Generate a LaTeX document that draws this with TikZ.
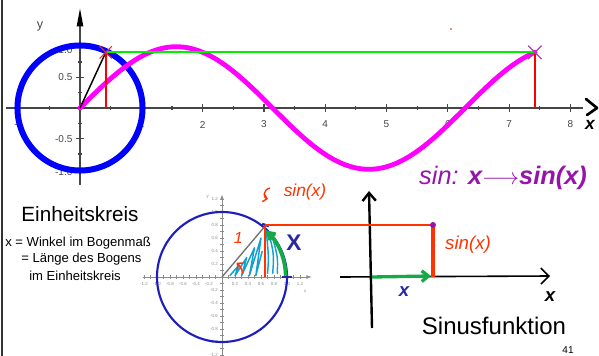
\documentclass[tikz,border=0pt]{standalone}
\usepackage{fontspec}
\setmainfont{Liberation Sans}
\usetikzlibrary{arrows.meta,calc}
\definecolor{axgray}{RGB}{70,70,70}
\definecolor{mag}{RGB}{255,0,255}
\definecolor{brightgreen}{RGB}{0,240,0}
\definecolor{pxviolet}{RGB}{170,70,170}
\definecolor{navy}{RGB}{40,40,160}
\definecolor{circblue}{RGB}{30,30,190}
\definecolor{hred}{RGB}{255,50,0}
\definecolor{hgreen}{RGB}{20,170,70}
\definecolor{hcyan}{RGB}{20,160,210}
\definecolor{hpurple}{RGB}{150,20,170}
\definecolor{lgray}{RGB}{140,140,140}
\tikzset{
 axisline/.style={axgray, line width=0.9pt},
 tlabel/.style={text=axgray, font=\fontsize{7.5}{7.5}\selectfont, inner sep=0pt},
 smalllabel/.style={text=lgray, font=\fontsize{3.3}{3.3}\selectfont, inner sep=0pt},
 hand/.style={font=\fontsize{13}{13}\selectfont\itshape, inner sep=0pt},
 plain/.style={font=\fontsize{9.8}{9.8}\selectfont, inner sep=0pt, anchor=west},
}
\begin{document}
\begin{tikzpicture}[x=0.75pt,y=-0.75pt]
\useasboundingbox (0,0) rectangle (599,356);
% left frame line
\draw[black!80, line width=1.5pt] (2,0) -- (2,356);

% ================= top plot =================
\begin{scope}[xshift=60pt,yshift=-81pt,x=45.975pt,y=45.975pt]
\draw[axisline] (-1.2,0) -- (8.2,0);
\draw[axisline] (0,-1.25) -- (0,1.35);
\fill[black] (0,1.62) -- (-0.055,1.33) -- (0.055,1.33) -- cycle;
\foreach \i in {-1,...,8} \draw[axisline] (\i,-0.07) -- (\i,0.07);
\foreach \i in {-0.5,0.5,1.5,2.5,3.5,4.5,5.5,6.5,7.5} \draw[axisline] (\i,-0.04) -- (\i,0.04);
\foreach \j in {-1,-0.5,0.5,1} \draw[axisline] (-0.07,\j) -- (0.07,\j);
\foreach \j in {-0.75,-0.25,0.25,0.75} \draw[axisline] (-0.04,\j) -- (0.04,\j);
\node[tlabel] (xlm) at (-1,-0.27) {-1};
\foreach \i in {1,...,8} \node[tlabel] (xl\i) at (\i,-0.27) {\i};
\node[tlabel,anchor=east] (yl1) at (-0.12,0.95) {1.0};
\node[tlabel,anchor=east] (yl2) at (-0.12,0.5) {0.5};
\node[tlabel,anchor=east] (yl3) at (-0.12,-0.5) {-0.5};
\node[tlabel,anchor=east] (yl4) at (-0.12,-1.04) {-1.0};
\node[text=axgray, font=\fontsize{9.5}{9.5}\selectfont, inner sep=0pt] (ylab) at (-0.65,1.33) {y};
% unit circle
\draw[blue, line width=4.5pt] (0,0) circle (1.02);
% sine
\draw[mag, line width=3.6pt, line cap=round] plot[domain=0:7.42, samples=120] (\x,{sin(\x r)});
% construction
\coordinate (P) at (0.42,0.907);
\coordinate (Q) at (7.42,0.907);
\coordinate (O) at (0,0);
\coordinate (P0) at (0.42,0);
\coordinate (Q0) at (7.42,0);
\draw[black, line width=1.1pt] (O) -- (P);
\draw[red, line width=1.4pt] (P0) -- (P);
\draw[brightgreen, line width=1.6pt] (P) -- (Q);
\draw[red, line width=1.4pt] (Q0) -- (Q);
\draw[red!85, line width=0.8pt] ($(P)+(-0.1,-0.1)$) -- ($(P)+(0.1,0.1)$) ($(P)+(-0.1,0.1)$) -- ($(P)+(0.1,-0.1)$);
\draw[pxviolet, line width=1pt] ($(Q)+(-0.11,-0.11)$) -- ($(Q)+(0.11,0.11)$) ($(Q)+(-0.11,0.11)$) -- ($(Q)+(0.11,-0.11)$);
\end{scope}
% hand-drawn x arrowhead and label
\draw[black, line width=2pt, line cap=round, line join=round] (586,99) -- (597,108) -- (587,115);
\node[hand, font=\fontsize{13}{13}\selectfont\itshape\bfseries] (xhand) at (590,125) {x};
\fill[red] (451,29) circle (0.8);
\node[hand, text=hpurple, font=\fontsize{19}{19}\selectfont\itshape] (sinmap) at (503,178) {sin: \textbf{x}$\longrightarrow$\textbf{sin(x)}};

% ================= bottom left text =================
\node[font=\fontsize{15.5}{15.5}\selectfont, inner sep=0pt] (ek) at (80,214) {Einheitskreis};
\node[plain] (t1) at (5,243) {x = Winkel im Bogenmaß};
\node[plain] (t2) at (21,259) {= Länge des Bogens};
\node[plain] (t3) at (29,276) {im Einheitskreis};

% ================= small unit circle =================
\begin{scope}[xshift=166.5pt,yshift=-207.75pt,x=48.75pt,y=48.75pt]
\draw[lgray, line width=0.6pt, -{Latex[length=4pt,width=3pt]}] (-1.22,0) -- (1.38,0);
\draw[lgray, line width=0.6pt, -{Latex[length=4pt,width=3pt]}] (0,-1.25) -- (0,1.27);
\foreach \v in {-1.2,-1.1,...,1.25} {
  \draw[lgray, line width=0.4pt] (\v,-0.025) -- (\v,0.025);
  \draw[lgray, line width=0.4pt] (-0.025,\v) -- (0.025,\v);
}
\foreach \v/\t in {-1.2/-1.2,-1/-1.0,-0.8/-0.8,-0.6/-0.6,-0.4/-0.4,-0.2/-0.2,0.2/0.2,0.4/0.4,0.6/0.6,0.8/0.8,1/1.0,1.2/1.2}
  \node[smalllabel] (sx\t) at (\v,-0.1) {\t};
\foreach \v/\t in {-1.2/-1.2,-1/-1.0,-0.8/-0.8,-0.6/-0.6,-0.4/-0.4,-0.2/-0.2,0.2/0.2,0.4/0.4,0.6/0.6,0.8/0.8,1/1.0,1.2/1.2}
  \node[smalllabel, anchor=east] (sy\t) at (-0.06,\v) {\t};
\node[smalllabel] (sylab) at (-0.22,1.24) {y};
\node[smalllabel] (sxlab) at (1.28,-0.22) {x};
\draw[circblue, line width=1.6pt] (0,0) circle (1);
% hatching
\draw[hcyan, line width=1.1pt, line join=round] (0.12,0.02) -- (0.25,0.17) -- (0.2,0.02) -- (0.38,0.3) -- (0.3,0.02) -- (0.5,0.45) -- (0.42,0.02) -- (0.6,0.6) -- (0.52,0.02) -- (0.62,0.4);
\draw[hcyan, line width=1.1pt, line join=round] (0.7,0.05) .. controls (0.72,0.3) .. (0.68,0.72) (0.78,0.05) .. controls (0.8,0.35) .. (0.72,0.68) (0.85,0.05) .. controls (0.86,0.3) .. (0.78,0.6);
\coordinate (SO) at (0,0);
\coordinate (SP) at (0.66,0.78);
\coordinate (SP0) at (0.66,0);
\draw[lgray!80!black, line width=1pt] (SO) -- (SP);
\draw[hred, line width=1.3pt] (SP0) -- (SP);
\draw[hred, line width=1.1pt, -{Straight Barb[length=3pt]}] (0.32,0.05) arc (10:48:0.3);
\draw[hgreen, line width=2.8pt, -{Straight Barb[length=5pt,width=6pt]}] (0.98,0.02) arc (1:47:0.98);
\draw[navy, line width=2pt] (0.92,0) -- (1.07,0);
\draw[navy, line width=1.6pt] (0.62,0.82) -- (0.72,0.78);
\node[hand, text=hred, font=\fontsize{12}{12}\selectfont\itshape] (one) at (0.25,0.6) {1};
\end{scope}
\node[font=\fontsize{17}{17}\selectfont\bfseries, text=navy, inner sep=0] (bigX) at (294,243) {X};
\draw[hred, line width=1pt, -{Straight Barb[length=3pt]}] (270,188) .. controls (262,190) and (264,198) .. (268,199);
\node[hand, text=hred] (sinsmall) at (305,192) {sin(x)};

% ================= sine function sketch =================
\coordinate (A0) at (372,277);
\coordinate (Vb) at (372,328);
\coordinate (Vt) at (369,191);
\coordinate (Hl) at (340,277);
\coordinate (Hr) at (550,276);
\coordinate (Tp) at (433,225);
\coordinate (Tb) at (433,277);
\coordinate (SPg) at (265,225);
\draw[black, line width=1.8pt, -{Straight Barb[length=6pt,width=10pt]}] (Vb) -- (Vt);
\draw[black, line width=1.2pt, -{Straight Barb[length=6pt,width=12pt]}] (Hl) -- (Hr);
\draw[hred, line width=0.8pt] (SPg) -- (Tp);
\draw[hred, line width=3pt] (Tb) -- (Tp);
\draw[hgreen, line width=2.5pt, -{Straight Barb[length=5pt,width=8pt]}] (A0) -- (431,276);
\fill[hpurple] (Tp) circle (3);
\node[hand, text=hred, font=\fontsize{14}{14}\selectfont\itshape] (sinx) at (468,245) {sin(x)};
\node[font=\fontsize{14}{14}\selectfont\bfseries\itshape, text=navy, inner sep=0] (xblue) at (404,292) {x};
\node[font=\fontsize{14}{14}\selectfont\bfseries\itshape, inner sep=0] (xblack) at (550,297) {x};
\node[font=\fontsize{18}{18}\selectfont, inner sep=0] (sf) at (494,326) {Sinusfunktion};
\node[font=\fontsize{7.5}{7.5}\selectfont, inner sep=0] (pg) at (568,350) {41};
\end{tikzpicture}
\end{document}
